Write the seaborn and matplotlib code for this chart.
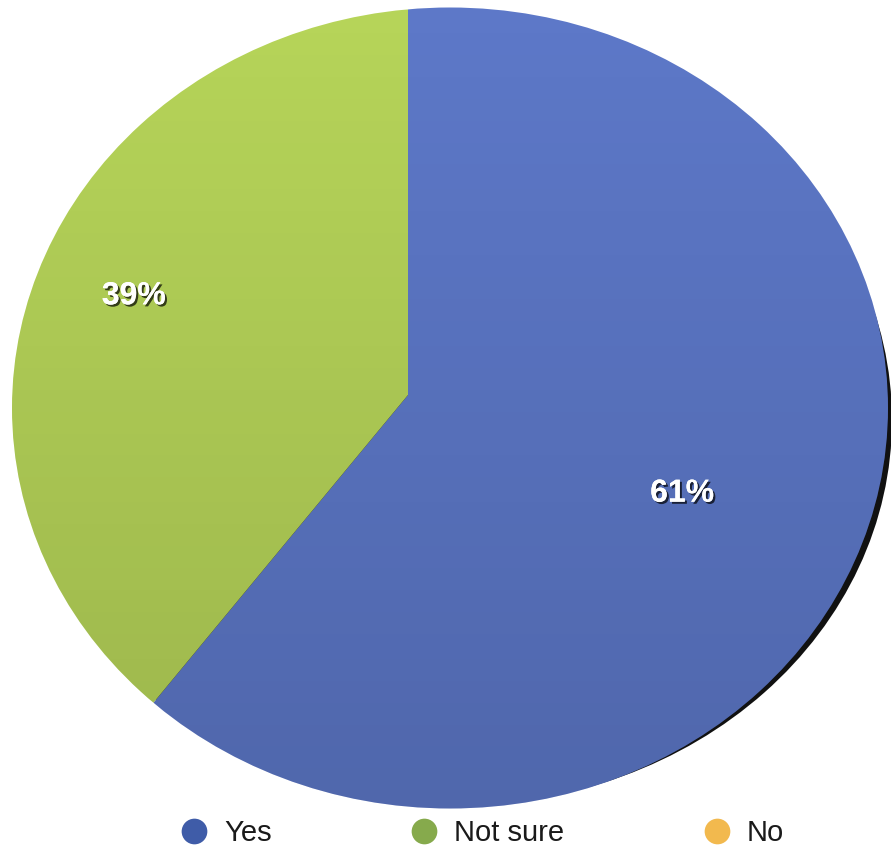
import numpy as np
import matplotlib
matplotlib.use("Agg")
import matplotlib.pyplot as plt
import matplotlib.patheffects as pe
from matplotlib.patches import Ellipse
from matplotlib.lines import Line2D
import seaborn as sns

# ---- data ----
categories = ["Yes", "Not sure", "No"]
values = [61, 39, 0]
slice_colors = ["#5d78c8", "#b6d459", "#f2b94e"]
legend_colors = ["#3f5ca8", "#86aa4c", "#f2b94e"]

sns.set_theme(style="white")
plt.rcParams["font.family"] = ["Liberation Sans", "DejaVu Sans"]

W, H = 891, 849
fig = plt.figure(figsize=(W / 100, H / 100), dpi=100)
ax = fig.add_axes([0, 0, 1, 1])

# ellipse outline of the (photographed) pie, in pixel-like data units
ell_center = (450, 441)
ell_w, ell_h = 876, 801
vertex = (408, 454)

# dark shadow crescent on the lower right side
shadow = Ellipse((ell_center[0] + 6, ell_center[1] - 12), ell_w - 4, ell_h - 30,
                 facecolor="#111111", edgecolor="none", zorder=0)
ax.add_patch(shadow)

clip = Ellipse(ell_center, ell_w, ell_h, facecolor="none", edgecolor="none")
ax.add_patch(clip)

wedges, texts, autotexts = ax.pie(
    values, colors=slice_colors, startangle=90, counterclock=False,
    center=vertex, radius=620, pctdistance=0.47,
    autopct=lambda p: f"{p:.0f}%" if p > 0 else "",
    wedgeprops=dict(linewidth=0, edgecolor="none"),
    textprops=dict(color="white", fontsize=23, fontweight="bold"),
)
for w in wedges:
    w.set_clip_on(True)
    w.set_clip_path(clip)
    w.set_zorder(1)
for t in autotexts:
    t.set_zorder(5)
    t.set_path_effects([
        pe.withSimplePatchShadow(offset=(1.5, -1.5), shadow_rgbFace="black", alpha=0.7),
        pe.Normal(),
    ])

# subtle top-to-bottom shading
grad = np.linspace(0, 1, 256).reshape(-1, 1)
im = ax.imshow(grad, extent=(ell_center[0] - ell_w / 2, ell_center[0] + ell_w / 2,
                             ell_center[1] - ell_h / 2, ell_center[1] + ell_h / 2),
               cmap=matplotlib.colors.LinearSegmentedColormap.from_list(
                   "sh", [(0, 0, 0, 0.14), (0, 0, 0, 0.0)]),
               origin="lower", aspect="auto", zorder=2)
im.set_clip_path(clip)

ax.set_xlim(0, W)
ax.set_ylim(0, H)
ax.set_aspect("auto")
ax.axis("off")

handles = [Line2D([], [], linestyle="none", marker="o", markersize=18.5,
                  markerfacecolor=c, markeredgecolor="none") for c in legend_colors]
fig.legend(handles, categories, loc="center", bbox_to_anchor=(482 / W, 1 - 833 / H),
           ncol=3, frameon=False, fontsize=21, handlelength=0.95,
           handletextpad=0.55, columnspacing=4.75, labelcolor="#1a1a1a")

fig.savefig("out.png", dpi=100, facecolor="white")
